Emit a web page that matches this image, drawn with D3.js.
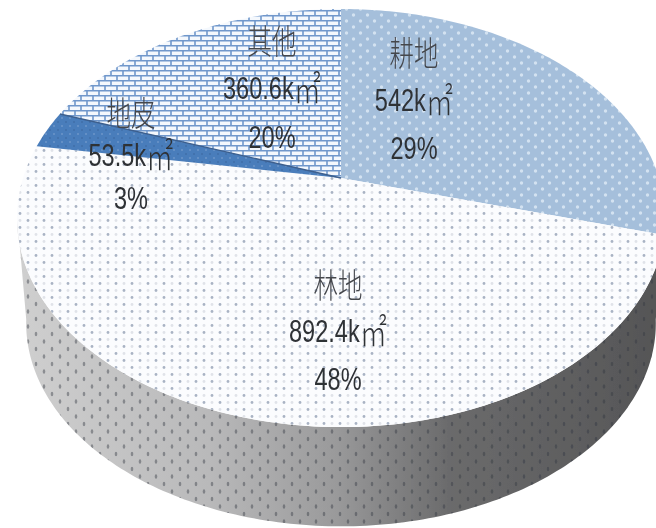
<!DOCTYPE html>
<html>
<head>
<meta charset="utf-8">
<script src="https://cdn.jsdelivr.net/npm/d3@7"></script>
<style>
  html, body { margin: 0; padding: 0; background: #fff; }
  svg { display: block; }
  .cjk { font-family: "Noto Sans CJK SC", sans-serif; font-weight: 300; font-size: 34px; fill: #44464c; }
  .num { font-family: "Liberation Sans", sans-serif; font-size: 31px; }
  .sqm { font-family: "Noto Sans CJK SC", sans-serif; font-weight: 300; font-size: 36px; }
</style>
</head>
<body>
<div id="chart"></div>
<script>
// data, clockwise from 12 o'clock
const names = ["耕地", "林地", "地皮", "其他"];
const areas = [542, 892.4, 53.5, 360.6];
const areaLabels = ["542k", "892.4k", "53.5k", "360.6k"];
const percents = ["29%", "48%", "3%", "20%"];

const width = 656, height = 528;

// text centre x, and y of the three lines, per slice
const labelX = [414, 338, 131, 272];
const labelY = [[52, 100, 148], [284, 331, 379], [112, 155, 198], [40, 88, 137]];

// the pie is tilted in perspective, so the hub is not the middle of the ellipse
const tilt = 0.1915;
const x = d3.scaleLinear().domain([-1, 1]).range([23, 659]);
const y = d3.scaleLinear().domain([-1, 1]).range([-23.4, 379.4]);
const xBottom = d3.scaleLinear().domain([-1, 1]).range([32, 650]);
const yBottom = d3.scaleLinear().domain([-1, 1]).range([89, 480]);

function project(angle, r, sx, sy) {
    const u = r * Math.sin(angle);
    const v = -r * Math.cos(angle);
    const w = 1 - tilt * v;
    return [sx(u / w), sy(v / w)];
}

const svg = d3.select("#chart").append("svg")
    .attr("width", width)
    .attr("height", height);

const defs = svg.append("defs");

defs.append("filter").attr("id", "soft")
    .append("feGaussianBlur").attr("stdDeviation", 0.6);
defs.append("filter").attr("id", "softText")
    .append("feGaussianBlur").attr("stdDeviation", 0.4);

const wallGrad = defs.append("linearGradient").attr("id", "wallGrad")
    .attr("gradientUnits", "userSpaceOnUse")
    .attr("x1", 20).attr("x2", 650).attr("y1", 0).attr("y2", 0);
wallGrad.selectAll("stop")
    .data([[0, "#cfcfcf"], [0.3, "#b9b9ba"], [0.5, "#9a9a9b"], [0.68, "#6b6b6c"], [1, "#565657"]])
    .enter().append("stop")
    .attr("offset", d => d[0])
    .attr("stop-color", d => d[1]);

function dotPattern(id, w, h, bg, dots) {
    const p = defs.append("pattern").attr("id", id)
        .attr("patternUnits", "userSpaceOnUse")
        .attr("width", w).attr("height", h);
    if (bg) p.append("rect").attr("width", w).attr("height", h).attr("fill", bg);
    dots.forEach(function(d) {
        p.append("ellipse")
            .attr("cx", d[0]).attr("cy", d[1])
            .attr("rx", d[2]).attr("ry", d[3])
            .attr("fill", d[4]);
    });
}

dotPattern("dotsBlue", 14, 12, "#a5bfdb", [
    [3.5, 3, 1.7, 1.7, "#d3e2f1"], [10.5, 9, 1.7, 1.7, "#d3e2f1"]
]);
dotPattern("dotsWhite", 16, 14, "#fbfcfe", [
    [4, 3.5, 1.4, 1.4, "#a9b3c4"], [12, 10.5, 1.4, 1.4, "#a9b3c4"],
    [12, 3.5, 1.4, 1.4, "#e0e3e9"], [4, 10.5, 1.4, 1.4, "#e0e3e9"]
]);
dotPattern("dotsDeep", 8, 8, "#4a7dbb", [
    [2, 2, 1, 1, "#3f6ea8"], [6, 6, 1, 1, "#6b95c9"]
]);
dotPattern("dotsWall", 16, 15, null, [
    [4, 4, 1.3, 2.2, "rgba(50,55,65,0.42)"], [12, 11.5, 1.3, 2.2, "rgba(50,55,65,0.42)"]
]);

const brick = defs.append("pattern").attr("id", "bricks")
    .attr("patternUnits", "userSpaceOnUse")
    .attr("width", 12).attr("height", 10);
brick.append("rect").attr("width", 12).attr("height", 10).attr("fill", "#f4f8fd");
brick.append("path")
    .attr("d", "M0 .75H12M0 5.75H12M3 0V5M9 5V10")
    .attr("stroke", "#6f97cb")
    .attr("stroke-width", 1.6)
    .attr("fill", "none");

const fills = ["url(#dotsBlue)", "url(#dotsWhite)", "url(#dotsDeep)", "url(#bricks)"];

const pie = d3.pie().sort(null)(areas);
const line = d3.line();
const hub = project(0, 0, x, y);

function arcPoints(a0, a1, sx, sy) {
    const n = Math.max(2, Math.ceil(Math.abs(a1 - a0) * 60));
    return d3.range(n + 1).map(i => project(a0 + (a1 - a0) * i / n, 1, sx, sy));
}

const plot = svg.append("g").attr("filter", "url(#soft)");

// side wall: upper rim on the way round, lower rim on the way back
const wallFrom = 100 * Math.PI / 180, wallTo = 260 * Math.PI / 180;
const wallShape = arcPoints(wallFrom, wallTo, x, y)
    .concat(arcPoints(wallTo, wallFrom, xBottom, yBottom));
plot.append("path").attr("d", line(wallShape) + "Z").attr("fill", "url(#wallGrad)");
plot.append("path").attr("d", line(wallShape) + "Z").attr("fill", "url(#dotsWall)");

// top face
plot.selectAll(".slice")
    .data(pie)
    .enter().append("path")
    .attr("class", "slice")
    .attr("d", d => line([hub].concat(arcPoints(d.startAngle, d.endAngle, x, y))) + "Z")
    .attr("fill", (d, i) => fills[i]);

// dark seam above the deep blue slice
plot.append("path")
    .attr("d", line([hub, project(pie[3].startAngle, 1, x, y)]))
    .attr("stroke", "#3c5f8e")
    .attr("stroke-width", 1.4)
    .attr("fill", "none");

const labels = svg.append("g")
    .attr("filter", "url(#softText)")
    .attr("fill", "#2f3136")
    .attr("text-anchor", "middle")
    .attr("dominant-baseline", "central");

// the original type is tall and narrow, so squeeze it sideways
names.forEach(function(name, i) {
    labels.append("text").attr("class", "cjk")
        .attr("transform", `translate(${labelX[i]},${labelY[i][0]}) scale(0.72,1)`)
        .text(name);
    const area = labels.append("text").attr("class", "num")
        .attr("transform", `translate(${labelX[i]},${labelY[i][1]}) scale(0.76,1)`);
    area.append("tspan").text(areaLabels[i]);
    area.append("tspan").attr("class", "sqm").attr("dy", -1).text("㎡");
    labels.append("text").attr("class", "num")
        .attr("transform", `translate(${labelX[i]},${labelY[i][2]}) scale(0.76,1)`)
        .text(percents[i]);
});
</script>
</body>
</html>
